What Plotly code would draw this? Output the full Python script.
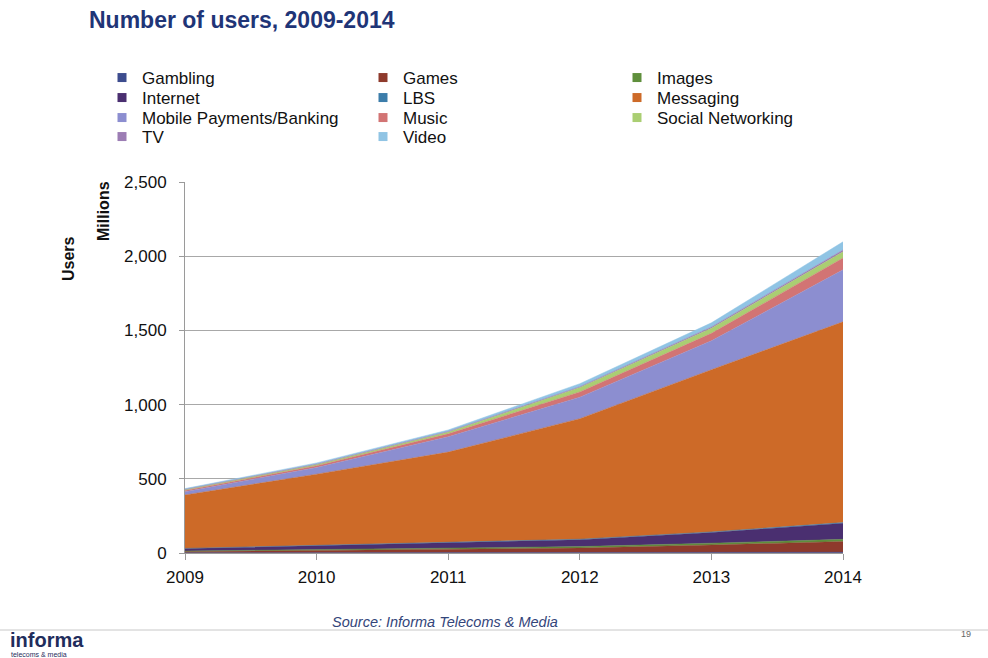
import plotly.graph_objects as go

years = [2009, 2010, 2011, 2012, 2013, 2014]

# Users per service, millions (stacked in this order from the bottom)
gambling = [2, 3, 3, 3, 4, 5]
games = [8, 15, 22, 30, 50, 72]
images = [3, 5, 8, 10, 12, 15]
internet = [17, 27, 37, 47, 72, 108]
lbs = [1, 1, 2, 3, 4, 5]
messaging = [360, 480, 608, 812, 1093, 1353]
mobile_payments = [22, 45, 103, 145, 195, 350]
music = [8, 12, 20, 35, 50, 80]
social_networking = [6, 8, 12, 30, 35, 42]
tv = [2, 3, 4, 6, 8, 12]
video = [5, 8, 10, 20, 28, 55]

series_names = ["Gambling", "Games", "Images", "Internet", "LBS", "Messaging",
                "Mobile Payments/Banking", "Music", "Social Networking", "TV", "Video"]
series_values = [gambling, games, images, internet, lbs, messaging,
                 mobile_payments, music, social_networking, tv, video]
series_colors = ["#3D4C8E", "#8E3A2C", "#5F8F3C", "#4A2F70", "#3C7DAA", "#CD6A28",
                 "#8C8ED0", "#D27474", "#AACE72", "#9C7DB4", "#90C4E4"]

W, H = 988, 658
ml, mr, mt, mb = 185, 145, 182, 105
pw, ph = W - ml - mr, H - mt - mb


def px_x(x):
    return (x - ml) / pw


def px_y(y):
    return (H - mb - y) / ph


# Legend grid: three columns, entries laid out row by row
col_x = [102, 363, 617]
row_y = [78, 98, 118, 137]

fig = go.Figure()
legend_layouts = {}
for i, (name, vals, col) in enumerate(zip(series_names, series_values, series_colors)):
    lg = "legend" if i == 0 else f"legend{i + 1}"
    fig.add_trace(go.Scatter(
        x=years, y=vals, name=name, mode="lines",
        stackgroup="one", line=dict(width=0.5, color=col),
        fillcolor=col, showlegend=False, legendgroup=name,
    ))
    # square swatch shown in the legend for this series
    fig.add_trace(go.Scatter(
        x=[None], y=[None], name=name, mode="markers", legendgroup=name,
        marker=dict(symbol="square", size=9, color=col), legend=lg,
    ))
    legend_layouts[lg] = dict(
        x=px_x(col_x[i % 3]), y=px_y(row_y[i // 3]),
        xanchor="left", yanchor="middle", orientation="v",
        font=dict(family="Liberation Sans, Arial, sans-serif", size=17, color="#111111"),
        itemwidth=30, bgcolor="rgba(0,0,0,0)", borderwidth=0,
        xref="paper", yref="paper",
    )

fig.update_layout(
    width=W, height=H,
    margin=dict(l=ml, r=mr, t=mt, b=mb, pad=0),
    paper_bgcolor="white", plot_bgcolor="white",
    font=dict(family="Liberation Sans, Arial, sans-serif", size=15, color="#111111"),
    showlegend=True,
    xaxis=dict(
        range=[2009, 2014], tickvals=years, ticktext=[str(y) for y in years],
        showgrid=False, showline=True, linecolor="#9a9a9a", linewidth=1,
        ticks="outside", ticklen=6, tickcolor="#9a9a9a", ticklabelstandoff=3,
        tickfont=dict(size=17, color="#111111"), zeroline=False,
    ),
    yaxis=dict(
        range=[0, 2500], tickvals=[0, 500, 1000, 1500, 2000, 2500],
        ticktext=["0", "500", "1,000", "1,500", "2,000", "2,500"],
        showgrid=True, gridcolor="#a8a8a8", gridwidth=1,
        showline=True, linecolor="#9a9a9a", linewidth=1,
        ticks="outside", ticklen=5, tickcolor="#9a9a9a", ticklabelstandoff=9,
        tickfont=dict(size=17, color="#111111"), zeroline=False,
    ),
    **legend_layouts,
)

annotations = [
    dict(text="<b>Number of users, 2009-2014</b>", x=px_x(87), y=px_y(20),
         xanchor="left", yanchor="middle", showarrow=False,
         font=dict(size=23, color="#1F3577")),
    dict(text="<b>Users</b>", x=px_x(68), y=px_y(259), textangle=-90,
         xanchor="center", yanchor="middle", showarrow=False,
         font=dict(size=16, color="#111111")),
    dict(text="<b>Millions</b>", x=px_x(103), y=px_y(211), textangle=-90,
         xanchor="center", yanchor="middle", showarrow=False,
         font=dict(size=16, color="#111111")),
    dict(text="<i>Source: Informa Telecoms &amp; Media</i>", x=px_x(445), y=px_y(622),
         xanchor="center", yanchor="middle", showarrow=False,
         font=dict(size=14.5, color="#33457A")),
    dict(text="<b>informa</b>", x=px_x(8), y=px_y(640),
         xanchor="left", yanchor="middle", showarrow=False,
         font=dict(size=20, color="#1F2D5C")),
    dict(text="telecoms &amp; media", x=px_x(9), y=px_y(654),
         xanchor="left", yanchor="middle", showarrow=False,
         font=dict(size=7, color="#1F2D5C")),
    dict(text="19", x=px_x(966), y=px_y(634),
         xanchor="center", yanchor="middle", showarrow=False,
         font=dict(size=9, color="#666666")),
]
for a in annotations:
    a.update(xref="paper", yref="paper")
fig.update_layout(annotations=annotations)

fig.add_shape(type="line", xref="paper", yref="paper",
              x0=px_x(0), x1=px_x(988), y0=px_y(630), y1=px_y(630),
              line=dict(color="#c8c8c8", width=1))

fig.write_html("out.html")
